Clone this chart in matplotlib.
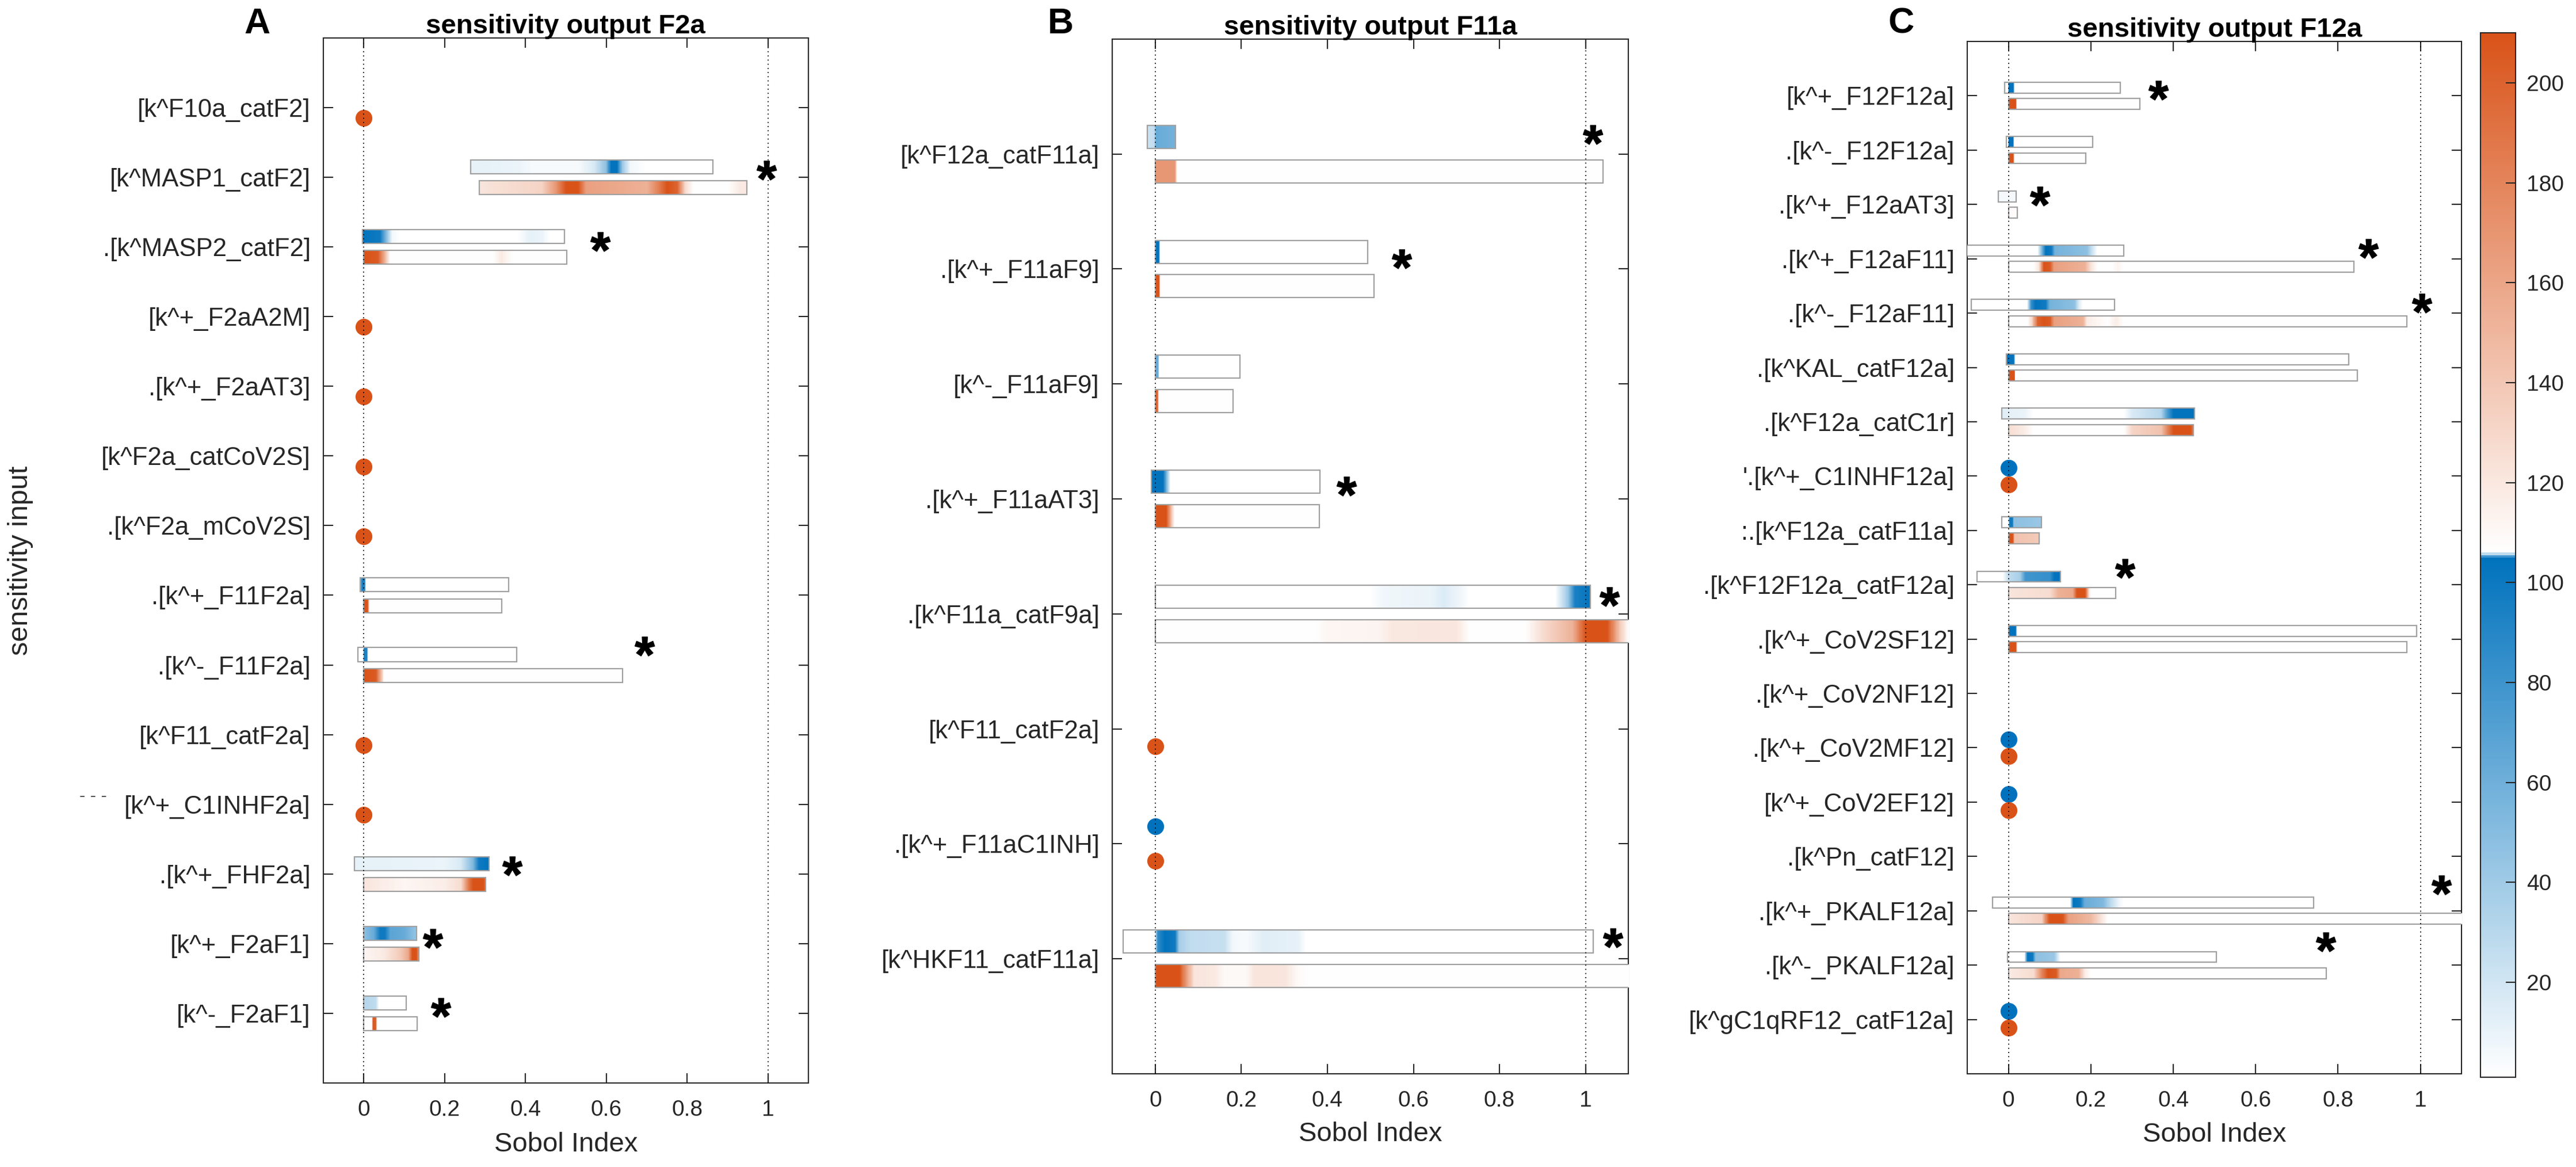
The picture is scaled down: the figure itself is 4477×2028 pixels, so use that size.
import numpy as np
import matplotlib
matplotlib.use("Agg")
import matplotlib.pyplot as plt
from matplotlib.colors import LinearSegmentedColormap, Normalize
from matplotlib.cm import ScalarMappable
from matplotlib.patches import Rectangle
from matplotlib.textpath import TextPath
from matplotlib.path import Path
from matplotlib.font_manager import FontProperties

plt.rcParams['font.family'] = ['Liberation Sans', 'DejaVu Sans']

# ---- data ----
# bars: (row, lo, hi, density profile [(x, d)], d in 0..100)
A_labels = ['[k^F10a_catF2]', '[k^MASP1_catF2]', '.[k^MASP2_catF2]', '[k^+_F2aA2M]',
            '.[k^+_F2aAT3]', '[k^F2a_catCoV2S]', '.[k^F2a_mCoV2S]', '.[k^+_F11F2a]',
            '.[k^-_F11F2a]', '[k^F11_catF2a]', '[k^+_C1INHF2a]', '.[k^+_FHF2a]',
            '[k^+_F2aF1]', '[k^-_F2aF1]']
A_blue = [
    (2, 0.265, 0.864, [(0.265, 10), (0.38, 8), (0.42, 3), (0.53, 3), (0.57, 15), (0.60, 45), (0.612, 100),
                       (0.627, 100), (0.64, 40), (0.66, 5), (0.70, 0), (0.864, 0)]),
    (3, -0.003, 0.497, [(-0.003, 100), (0.04, 95), (0.055, 50), (0.07, 5), (0.09, 0), (0.38, 0), (0.41, 10),
                        (0.44, 8), (0.46, 0), (0.497, 0)]),
    (8, -0.008, 0.359, [(-0.008, 0), (-0.005, 90), (0.003, 90), (0.006, 0), (0.359, 0)]),
    (9, -0.015, 0.378, [(-0.015, 0), (-0.002, 0), (0.0, 90), (0.007, 90), (0.01, 0), (0.378, 0)]),
    (12, -0.023, 0.310, [(-0.023, 10), (0.2, 8), (0.24, 15), (0.27, 50), (0.285, 95), (0.31, 100)]),
    (13, 0.0, 0.131, [(0, 45), (0.025, 60), (0.04, 95), (0.052, 95), (0.065, 65), (0.1, 60), (0.131, 40)]),
    (14, 0.0, 0.105, [(0, 30), (0.03, 25), (0.038, 0), (0.105, 0)]),
]
A_orange = [
    (2, 0.286, 0.948, [(0.286, 15), (0.44, 25), (0.475, 60), (0.50, 100), (0.53, 100), (0.55, 55), (0.70, 45),
                       (0.73, 75), (0.75, 100), (0.775, 90), (0.795, 20), (0.815, 0), (0.9, 0), (0.93, 12),
                       (0.948, 12)]),
    (3, 0.0, 0.503, [(0, 100), (0.035, 95), (0.05, 50), (0.065, 0), (0.32, 0), (0.34, 12), (0.355, 5),
                     (0.37, 0), (0.503, 0)]),
    (8, 0.0, 0.341, [(0, 100), (0.01, 100), (0.014, 0), (0.341, 0)]),
    (9, 0.0, 0.641, [(0, 100), (0.03, 95), (0.045, 30), (0.05, 0), (0.641, 0)]),
    (12, 0.0, 0.302, [(0, 15), (0.1, 5), (0.2, 10), (0.24, 20), (0.26, 80), (0.27, 100), (0.295, 100),
                      (0.302, 85)]),
    (13, 0.0, 0.136, [(0, 5), (0.05, 12), (0.09, 30), (0.11, 50), (0.12, 100), (0.13, 100), (0.136, 60)]),
    (14, 0.0, 0.132, [(0, 0), (0.02, 0), (0.023, 95), (0.03, 95), (0.033, 0), (0.132, 0)]),
]
A_dots_blue = []
A_dots_orange = [1, 4, 5, 6, 7, 10, 11]
A_stars = [(2, 0.996, 0.02), (3, 0.585, 0.04), (9, 0.694, -0.15), (12, 0.367, 0.0),
           (13, 0.171, 0.04), (14, 0.190, 0.03)]

B_labels = ['[k^F12a_catF11a]', '.[k^+_F11aF9]', '[k^-_F11aF9]', '.[k^+_F11aAT3]',
            '.[k^F11a_catF9a]', '[k^F11_catF2a]', '.[k^+_F11aC1INH]', '[k^HKF11_catF11a]']
B_blue = [
    (1, -0.018, 0.047, [(-0.018, 20), (-0.002, 25), (0.002, 60), (0.047, 55)]),
    (2, 0.0, 0.494, [(0, 100), (0.008, 100), (0.011, 0), (0.494, 0)]),
    (3, 0.0, 0.197, [(0, 60), (0.006, 60), (0.009, 0), (0.197, 0)]),
    (4, -0.009, 0.383, [(-0.009, 100), (0.018, 100), (0.03, 30), (0.035, 0), (0.383, 0)]),
    (5, 0.0, 1.011, [(0, 0), (0.5, 0), (0.53, 6), (0.64, 8), (0.67, 14), (0.71, 6), (0.73, 0), (0.93, 0),
                     (0.96, 40), (0.975, 90), (1.011, 100)]),
    (8, -0.075, 1.018, [(-0.075, 0), (-0.002, 0), (0.005, 80), (0.02, 100), (0.045, 95), (0.055, 35),
                        (0.08, 25), (0.16, 22), (0.18, 5), (0.21, 3), (0.25, 12), (0.33, 10), (0.35, 0),
                        (1.018, 0)]),
]
B_orange = [
    (1, 0.0, 1.041, [(0, 60), (0.045, 60), (0.05, 0), (1.041, 0)]),
    (2, 0.0, 0.508, [(0, 100), (0.008, 100), (0.011, 0), (0.508, 0)]),
    (3, 0.0, 0.181, [(0, 90), (0.005, 90), (0.008, 0), (0.181, 0)]),
    (4, 0.0, 0.381, [(0, 100), (0.025, 100), (0.04, 20), (0.045, 0), (0.381, 0)]),
    (5, 0.0, 1.2, [(0, 0), (0.37, 0), (0.4, 5), (0.52, 6), (0.55, 13), (0.7, 14), (0.73, 0), (0.86, 0),
                   (0.9, 20), (0.97, 45), (1.0, 100), (1.05, 100), (1.08, 30), (1.1, 0), (1.2, 0)]),
    (8, 0.0, 1.2, [(0, 100), (0.055, 100), (0.07, 60), (0.09, 15), (0.14, 12), (0.16, 3), (0.21, 3),
                   (0.23, 15), (0.3, 15), (0.33, 3), (0.36, 0), (1.2, 0)]),
]
B_dots_blue = [7]
B_dots_orange = [6, 7]
B_stars = [(1, 1.017, -0.10), (2, 0.572, -0.02), (4, 0.444, -0.04), (5, 1.056, -0.08), (8, 1.064, -0.11)]

C_labels = ['[k^+_F12F12a]', '.[k^-_F12F12a]', '.[k^+_F12aAT3]', '.[k^+_F12aF11]', '.[k^-_F12aF11]',
            '.[k^KAL_catF12a]', '.[k^F12a_catC1r]', "'.[k^+_C1INHF12a]", ':.[k^F12a_catF11a]',
            '.[k^F12F12a_catF12a]', '.[k^+_CoV2SF12]', '.[k^+_CoV2NF12]', '.[k^+_CoV2MF12]',
            '[k^+_CoV2EF12]', '.[k^Pn_catF12]', '.[k^+_PKALF12a]', '.[k^-_PKALF12a]',
            '[k^gC1qRF12_catF12a]']
C_blue = [
    (1, -0.010, 0.272, [(-0.01, 0), (-0.002, 0), (0.0, 100), (0.011, 100), (0.014, 0), (0.272, 0)]),
    (2, -0.005, 0.204, [(-0.005, 0), (-0.001, 0), (0.001, 100), (0.011, 100), (0.014, 0), (0.204, 0)]),
    (3, -0.024, 0.018, [(-0.024, 4), (0.018, 4)]),
    (4, -0.14, 0.280, [(-0.14, 0), (0.07, 0), (0.082, 60), (0.09, 100), (0.104, 95), (0.112, 55), (0.19, 45),
                       (0.2, 25), (0.215, 0), (0.28, 0)]),
    (5, -0.090, 0.258, [(-0.09, 0), (0.045, 0), (0.055, 80), (0.065, 100), (0.09, 95), (0.1, 55), (0.16, 45),
                        (0.17, 15), (0.18, 0), (0.258, 0)]),
    (6, -0.005, 0.826, [(-0.005, 100), (0.013, 100), (0.016, 0), (0.826, 0)]),
    (7, -0.016, 0.452, [(-0.016, 12), (0.04, 8), (0.06, 0), (0.28, 0), (0.3, 15), (0.37, 30), (0.385, 70),
                        (0.4, 100), (0.452, 100)]),
    (9, -0.016, 0.080, [(-0.016, 0), (0.0, 0), (0.003, 95), (0.01, 95), (0.013, 45), (0.08, 40)]),
    (10, -0.077, 0.126, [(-0.077, 0), (-0.015, 0), (0.0, 25), (0.027, 35), (0.04, 75), (0.1, 80), (0.11, 100),
                         (0.126, 100)]),
    (11, 0.0, 0.991, [(0, 100), (0.017, 100), (0.02, 0), (0.991, 0)]),
    (16, -0.038, 0.741, [(-0.038, 0), (0.15, 0), (0.158, 100), (0.175, 95), (0.185, 60), (0.23, 50),
                         (0.25, 25), (0.27, 5), (0.28, 0), (0.741, 0)]),
    (17, -0.003, 0.505, [(-0.003, 0), (0.038, 0), (0.045, 100), (0.058, 95), (0.065, 45), (0.11, 40),
                         (0.125, 0), (0.505, 0)]),
]
C_orange = [
    (1, 0.0, 0.319, [(0, 100), (0.017, 100), (0.02, 0), (0.319, 0)]),
    (2, 0.0, 0.188, [(0, 100), (0.011, 100), (0.014, 0), (0.188, 0)]),
    (3, 0.0, 0.022, [(0, 2), (0.022, 2)]),
    (4, 0.0, 0.839, [(0, 0), (0.06, 0), (0.073, 15), (0.085, 100), (0.1, 95), (0.11, 55), (0.185, 45),
                     (0.2, 15), (0.215, 0), (0.25, 0), (0.265, 6), (0.28, 0), (0.839, 0)]),
    (5, 0.0, 0.967, [(0, 0), (0.045, 0), (0.055, 20), (0.07, 90), (0.085, 100), (0.1, 95), (0.11, 55),
                     (0.18, 45), (0.19, 10), (0.24, 0), (0.26, 10), (0.28, 0), (0.967, 0)]),
    (6, 0.0, 0.847, [(0, 100), (0.013, 100), (0.016, 0), (0.847, 0)]),
    (7, 0.0, 0.449, [(0, 20), (0.04, 10), (0.06, 0), (0.28, 0), (0.3, 25), (0.37, 35), (0.385, 70),
                     (0.4, 100), (0.44, 100), (0.449, 80)]),
    (9, 0.0, 0.075, [(0, 100), (0.01, 100), (0.014, 35), (0.075, 30)]),
    (10, 0.0, 0.260, [(0, 15), (0.1, 20), (0.12, 45), (0.155, 50), (0.165, 100), (0.185, 100), (0.195, 10),
                      (0.2, 0), (0.26, 0)]),
    (11, 0.0, 0.967, [(0, 100), (0.017, 100), (0.02, 0), (0.967, 0)]),
    (16, 0.0, 1.2, [(0, 15), (0.08, 25), (0.095, 90), (0.1, 100), (0.13, 100), (0.145, 55), (0.2, 40),
                    (0.225, 15), (0.24, 0), (1.2, 0)]),
    (17, 0.0, 0.772, [(0, 12), (0.06, 20), (0.08, 70), (0.095, 100), (0.115, 95), (0.125, 50), (0.17, 45),
                      (0.185, 10), (0.2, 0), (0.772, 0)]),
]
C_dots_blue = [8, 13, 14, 18]
C_dots_orange = [8, 13, 14, 18]
C_stars = [(1, 0.364, 0.05), (3, 0.076, 0.0), (4, 0.873, -0.04), (5, 1.003, -0.03), (10, 0.283, -0.15),
           (16, 1.051, -0.33), (17, 0.770, -0.28)]

titles = ['sensitivity output F2a', 'sensitivity output F11a', 'sensitivity output F12a']
letters = ['A', 'B', 'C']
xticks = [0, 0.2, 0.4, 0.6, 0.8, 1]
xticklabels = ['0', '0.2', '0.4', '0.6', '0.8', '1']
cbar_ticks = [20, 40, 60, 80, 100, 120, 140, 160, 180, 200]

BLUE = '#0072BD'
ORANGE = '#D95319'
TXT = '#262626'

cmap = LinearSegmentedColormap.from_list(
    'sobol', [(0.0, 'white'), (104 / 209, BLUE), (105 / 209, 'white'), (1.0, ORANGE)], N=420)
norm = Normalize(1, 210)

fp = FontProperties(family='Liberation Sans', weight='bold')
tp = TextPath((0, 0), '*', prop=fp)
v = tp.vertices
star = Path(v - (v.min(0) + v.max(0)) / 2, tp.codes)


def draw_bar(ax, row, lo, hi, prof, blue):
    px, pd = zip(*prof)
    xs = np.linspace(lo, hi, 800)
    d = np.interp(xs, px, pd)
    if blue:
        vals = 1 + d * 1.03
        y0, y1 = row - 0.25, row - 0.05
    else:
        vals = 106 + d * 1.04
        y0, y1 = row + 0.05, row + 0.25
    ax.imshow(vals[None, :], extent=(lo, hi, y1, y0), cmap=cmap, norm=norm,
              aspect='auto', interpolation='nearest', zorder=3)
    ax.add_patch(Rectangle((lo, y0), hi - lo, y1 - y0, fill=False, ec='#a0a0a0', lw=1.6, zorder=3.2))


def panel(ax, labels, blues, oranges, dblue, dorange, stars, title, label_y):
    n = len(labels)
    for row, lo, hi, prof in blues:
        draw_bar(ax, row, lo, hi, prof, True)
    for row, lo, hi, prof in oranges:
        draw_bar(ax, row, lo, hi, prof, False)
    for r in dblue:
        ax.plot(0, r - 0.15, 'o', ms=20, color=BLUE, mec=BLUE, zorder=3.5)
    for r in dorange:
        ax.plot(0, r + 0.15, 'o', ms=20, color=ORANGE, mec=ORANGE, zorder=3.5)
    for r, sx, dy in stars:
        ax.plot(sx, r + dy, marker=star, ms=44, color='k', ls='none', zorder=5, clip_on=False)
    for xv in (0, 1):
        ax.axvline(xv, color='k', lw=1.3, ls=(0, (1, 3)), zorder=4)
    ax.set_xlim(-0.1, 1.1)
    ax.set_ylim(n + 1, 0)
    ax.set_xticks(xticks)
    ax.set_xticklabels(xticklabels)
    ax.set_yticks(range(1, n + 1))
    ax.set_yticklabels(labels)
    ax.tick_params(direction='in', length=12, width=1.5, top=True, right=True, colors=TXT)
    ax.tick_params(axis='x', labelsize=28, pad=21)
    ax.tick_params(axis='y', labelsize=31.5, pad=16)
    for s in ax.spines.values():
        s.set_linewidth(1.5)
        s.set_color(TXT)
    ax.set_title(title, fontsize=34, fontweight='bold', pad=6, color='k')
    ax.set_xlabel('Sobol Index', fontsize=34, color=TXT, va='top')
    ax.xaxis.set_label_coords(0.5, label_y)


fig = plt.figure(figsize=(44.77, 20.28), dpi=100)
axA = fig.add_axes([0.1255, 0.0720, 0.1883, 0.8955])
axB = fig.add_axes([0.4318, 0.0799, 0.2004, 0.8866])
axC = fig.add_axes([0.7637, 0.0799, 0.1919, 0.8846])
cax = fig.add_axes([0.9629, 0.0769, 0.01363, 0.8950])

panel(axA, A_labels, A_blue, A_orange, A_dots_blue, A_dots_orange, A_stars, titles[0], -0.047)
panel(axB, B_labels, B_blue, B_orange, B_dots_blue, B_dots_orange, B_stars, titles[1], -0.046)
panel(axC, C_labels, C_blue, C_orange, C_dots_blue, C_dots_orange, C_stars, titles[2], -0.047)

axA.set_ylabel('sensitivity input', fontsize=35, color=TXT)
axA.yaxis.set_label_coords(-0.598, 0.5)

fig.text(162 / 4477, 1 - 1384 / 2028, '- - -', fontsize=22, color='#555555', ha='center', va='center')

for lt, xpix in zip(letters, [447, 1843, 3304]):
    fig.text(xpix / 4477, 1 - 41 / 2028, lt, fontsize=45, fontweight='bold', ha='center', va='center')

cb = fig.colorbar(ScalarMappable(norm=norm, cmap=cmap), cax=cax)
cb.set_ticks(cbar_ticks)
cb.outline.set_linewidth(1.5)
cb.outline.set_edgecolor(TXT)
cax.tick_params(direction='in', length=12, width=1.5, labelsize=28, pad=14, colors=TXT)

fig.savefig('out.png', dpi=100)
